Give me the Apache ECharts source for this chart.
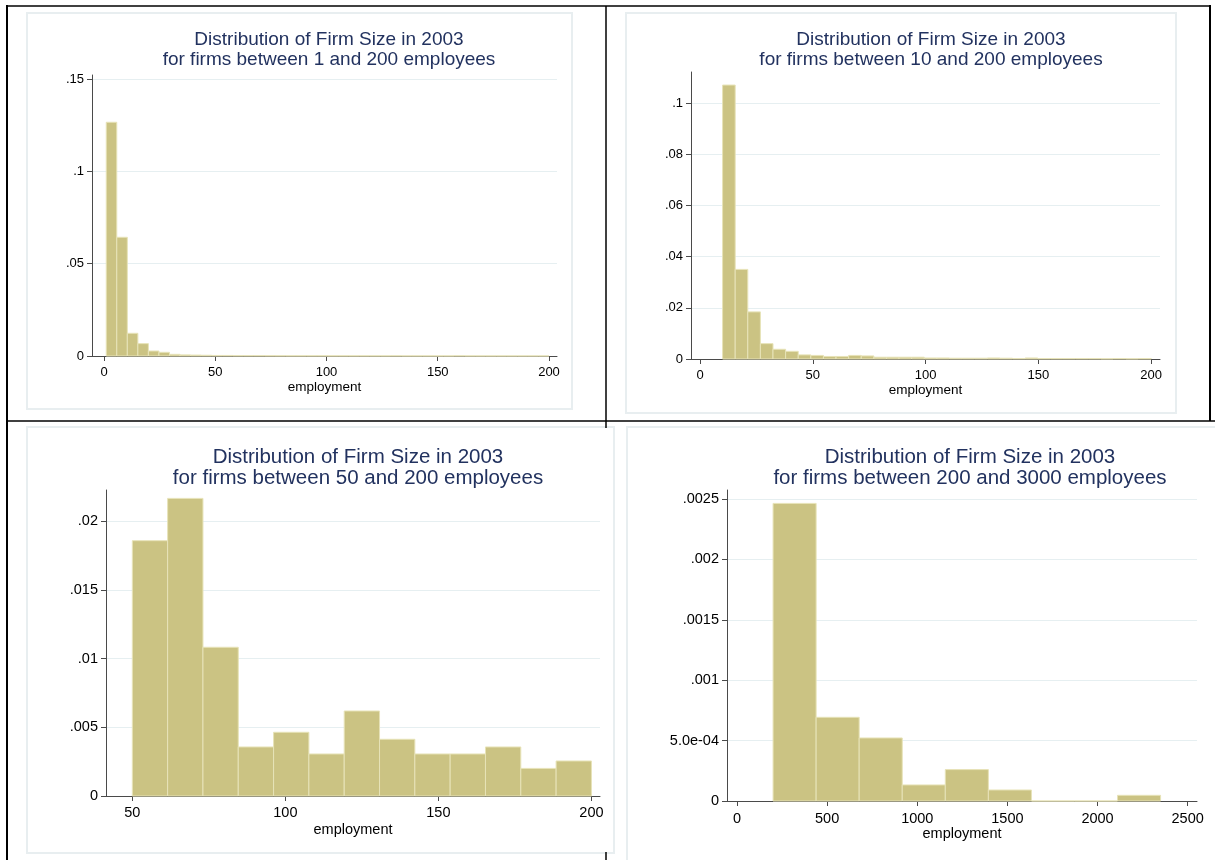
<!DOCTYPE html>
<html>
<head>
<meta charset="utf-8">
<script src="https://cdn.jsdelivr.net/npm/echarts@6/dist/echarts.min.js"></script>
<style>
html,body{margin:0;padding:0;background:#fff;}
#chart{width:1215px;height:860px;}
</style>
</head>
<body>
<div id="chart"></div>
<script>
// ---------- DATA ----------
const titleLine1 = 'Distribution of Firm Size in 2003';
const panelSubtitles = [
  'for firms between 1 and 200 employees',
  'for firms between 10 and 200 employees',
  'for firms between 50 and 200 employees',
  'for firms between 200 and 3000 employees'
];
const xAxisName = 'employment';

// Panel 1: 1–200 employees (42 bins)
const p1BinStart = 1;
const p1BinWidth = 199 / 42;
const p1Density = [0.1266, 0.0643, 0.0123, 0.0067, 0.0027, 0.0020, 0.0009, 0.0006, 0.0005, 0.0004,
  0.0003, 0.0003, 0.0002, 0.0002, 0.0002, 0.00015, 0.00012, 0.0001, 0.0001, 0.0001,
  0.0001, 0.00008, 0.00008, 0.00007, 0.00007, 0.00006, 0.00006, 0.0001, 0.00005, 0.00005,
  0.00005, 0.00004, 0.00004, 0.0001, 0.00004, 0.00003, 0.00003, 0.00003, 0.00003, 0.00003,
  0.00003, 0.00003];
const p1XTicks = [0, 50, 100, 150, 200];
const p1YTicks = [0, 0.05, 0.1, 0.15];
const p1YLabels = ['0', '.05', '.1', '.15'];

// Panel 2: 10–200 employees (34 bins)
const p2BinStart = 10;
const p2BinWidth = 190 / 34;
const p2Density = [0.107, 0.035, 0.0184, 0.006, 0.0038, 0.003, 0.0016, 0.0014, 0.0010, 0.0010,
  0.0014, 0.0012, 0.0007, 0.0007, 0.0007, 0.0007, 0.0004, 0.0004, 0.0003, 0.0003,
  0.0003, 0.0004, 0.0003, 0.0002, 0.0004, 0.0002, 0.0002, 0.0002, 0.0002, 0.0002,
  0.0001, 0.0002, 0.0001, 0.0002];
const p2XTicks = [0, 50, 100, 150, 200];
const p2YTicks = [0, 0.02, 0.04, 0.06, 0.08, 0.1];
const p2YLabels = ['0', '.02', '.04', '.06', '.08', '.1'];

// Panel 3: 50–200 employees (13 bins)
const p3BinStart = 50;
const p3BinWidth = 150 / 13;
const p3Density = [0.01859, 0.02167, 0.01083, 0.00357, 0.00464, 0.00306, 0.00619,
  0.00413, 0.00306, 0.00306, 0.00357, 0.00201, 0.00255];
const p3XTicks = [50, 100, 150, 200];
const p3YTicks = [0, 0.005, 0.01, 0.015, 0.02];
const p3YLabels = ['0', '.005', '.01', '.015', '.02'];

// Panel 4: 200–3000 employees (9 bins, observed max about 2350)
const p4BinStart = 200;
const p4BinWidth = 2150 / 9;
const p4Density = [0.002464, 0.000693, 0.000522, 0.000133, 0.00026, 0.0000912, 0, 0, 0.000047];
const p4XTicks = [0, 500, 1000, 1500, 2000, 2500];
const p4YTicks = [0, 0.0005, 0.001, 0.0015, 0.002, 0.0025];
const p4YLabels = ['0', '5.0e-04', '.001', '.0015', '.002', '.0025'];

// ---------- STYLE / LAYOUT ----------
const FONT = 'Liberation Sans, Arial, sans-serif';
const BAR_FILL = '#cbc383';
const BAR_EDGE = '#e7e3b8';
const GRID_LINE = '#e6eff1';
const AXIS_COLOR = '#4a4a4a';
const TITLE_COLOR = '#22325f';

const panels = [
  {start: p1BinStart, width: p1BinWidth, dens: p1Density, xt: p1XTicks, yt: p1YTicks, yl: p1YLabels,
   grid: {left: 92, top: 75, width: 465, height: 281}, xmin: -5.4, xmax: 203.6, ymax: 0.1522,
   tx: 324, ty: 25, tfs: 19, lh: 20, lfs: 13, nfs: 13.5, ngap: 24, xm: 10},
  {start: p2BinStart, width: p2BinWidth, dens: p2Density, xt: p2XTicks, yt: p2YTicks, yl: p2YLabels,
   grid: {left: 691, top: 72, width: 469, height: 287}, xmin: -4, xmax: 203.9, ymax: 0.1121,
   tx: 926, ty: 25, tfs: 19, lh: 20, lfs: 13, nfs: 13.5, ngap: 24, xm: 10},
  {start: p3BinStart, width: p3BinWidth, dens: p3Density, xt: p3XTicks, yt: p3YTicks, yl: p3YLabels,
   grid: {left: 106, top: 490, width: 494, height: 306}, xmin: 41.4, xmax: 202.8, ymax: 0.02228,
   tx: 353, ty: 442, tfs: 20.5, lh: 21, lfs: 14.5, nfs: 14.5, ngap: 26, xm: 9},
  {start: p4BinStart, width: p4BinWidth, dens: p4Density, xt: p4XTicks, yt: p4YTicks, yl: p4YLabels,
   grid: {left: 727, top: 490, width: 470, height: 311}, xmin: -55.6, xmax: 2552, ymax: 0.002575,
   tx: 965, ty: 442, tfs: 20.5, lh: 21, lfs: 14.5, nfs: 14.5, ngap: 25, xm: 10}
];

function labelFor(ticks, labels, v) {
  for (let i = 0; i < ticks.length; i++) {
    if (Math.abs(ticks[i] - v) < 1e-9) return labels[i];
  }
  return '';
}

const grids = [], xAxes = [], yAxes = [], series = [], titles = [];
panels.forEach((p, i) => {
  grids.push(Object.assign({containLabel: false}, p.grid));
  titles.push({
    text: titleLine1 + '\n' + panelSubtitles[i],
    left: p.tx, top: p.ty, textAlign: 'center',
    textStyle: {fontFamily: FONT, fontSize: p.tfs, fontWeight: 'normal', color: TITLE_COLOR, lineHeight: p.lh}
  });
  xAxes.push({
    gridIndex: i, type: 'value', min: p.xmin, max: p.xmax,
    axisLine: {show: true, onZero: false, lineStyle: {color: AXIS_COLOR, width: 1}},
    axisTick: {show: true, length: 5, customValues: p.xt, lineStyle: {color: AXIS_COLOR}},
    axisLabel: {customValues: p.xt, color: '#000', fontSize: p.lfs, fontFamily: FONT, margin: p.xm,
      formatter: v => String(Math.round(v))},
    splitLine: {show: false},
    name: xAxisName, nameLocation: 'middle', nameGap: p.ngap,
    nameTextStyle: {color: '#000', fontSize: p.nfs, fontFamily: FONT}
  });
  yAxes.push({
    gridIndex: i, type: 'value', min: 0, max: p.ymax,
    axisLine: {show: true, onZero: false, lineStyle: {color: AXIS_COLOR, width: 1}},
    axisTick: {show: true, length: 5, customValues: p.yt, lineStyle: {color: AXIS_COLOR}},
    axisLabel: {customValues: p.yt, color: '#000', fontSize: p.lfs, fontFamily: FONT, margin: 8,
      formatter: v => labelFor(p.yt, p.yl, v)},
    splitLine: {show: true, lineStyle: {color: GRID_LINE, width: 1}}
  });
  const data = p.dens.map((d, k) => [p.start + k * p.width, p.start + (k + 1) * p.width, d]);
  series.push({
    type: 'custom', xAxisIndex: i, yAxisIndex: i, data: data,
    encode: {x: [0, 1], y: 2},
    renderItem: function (params, api) {
      const a = api.coord([api.value(0), api.value(2)]);
      const b = api.coord([api.value(1), 0]);
      return {
        type: 'rect',
        shape: {x: a[0], y: a[1], width: b[0] - a[0], height: b[1] - a[1]},
        style: {fill: BAR_FILL, stroke: BAR_EDGE, lineWidth: 1}
      };
    },
    silent: true, animation: false
  });
});

// document table borders and panel frames (decoration)
const frame = (x, y, w, h) => ({type: 'rect', shape: {x, y, width: w, height: h},
  style: {fill: 'none', stroke: '#e8eef0', lineWidth: 2}, silent: true});
const rule = (x1, y1, x2, y2, w) => ({type: 'line', shape: {x1, y1, x2, y2},
  style: {stroke: '#000', lineWidth: w}, silent: true});
const graphics = [
  frame(27, 13, 545, 396),
  frame(626, 13, 550, 400),
  frame(27, 427, 587, 426),
  frame(627, 427, 600, 440),
  rule(6, 6, 1211, 6, 1.5),
  rule(7, 5, 7, 860, 2),
  rule(1210, 5, 1210, 421, 2),
  rule(6, 421, 1215, 421, 1.5),
  rule(606, 6, 606, 421, 1.5),
  rule(606, 421, 606, 428, 1.5),
  rule(606, 852, 606, 860, 1.5)
];

const chart = echarts.init(document.getElementById('chart'), null, {renderer: 'canvas'});
chart.setOption({
  backgroundColor: '#fff',
  animation: false,
  title: titles,
  grid: grids,
  xAxis: xAxes,
  yAxis: yAxes,
  series: series,
  graphic: graphics
});
</script>
</body>
</html>
